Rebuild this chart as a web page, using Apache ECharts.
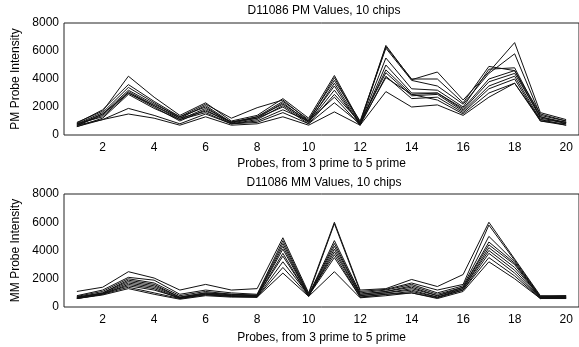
<!DOCTYPE html>
<html>
<head>
<meta charset="utf-8">
<script src="https://cdn.jsdelivr.net/npm/echarts@6/dist/echarts.min.js"></script>
<style>
  html, body { margin: 0; padding: 0; background: #fff; }
  #chart { width: 579px; height: 347px; }
</style>
</head>
<body>
<div id="chart"></div>
<script>
// Probe positions along the transcript (3' to 5')
const probes = [1, 2, 3, 4, 5, 6, 7, 8, 9, 10, 11, 12, 13, 14, 15, 16, 17, 18, 19, 20];
const xTicks = [2, 4, 6, 8, 10, 12, 14, 16, 18, 20];

// Perfect-match intensities, one array per chip
const pmChip1  = [900, 1700, 4200, 2700, 1400, 2300, 1000, 1400, 2600, 1200, 4250, 900, 6400, 3950, 4500, 2500, 4500, 6600, 1600, 1100];
const pmChip2  = [850, 1800, 3600, 2400, 1300, 2200, 1200, 1950, 2500, 1000, 4100, 800, 6300, 4000, 4000, 2300, 4900, 4600, 1500, 1000];
const pmChip3  = [800, 1600, 3400, 2300, 1200, 2100, 900, 1300, 2400, 1100, 3900, 1000, 6200, 3900, 3500, 2200, 4400, 5800, 1400, 1000];
const pmChip4  = [750, 1500, 3200, 2200, 1300, 2000, 850, 1200, 2300, 900, 3700, 800, 5500, 3300, 3200, 2000, 4700, 4800, 1300, 900];
const pmChip5  = [700, 1400, 3100, 2100, 1100, 1900, 900, 1300, 2200, 1000, 3500, 700, 5000, 3000, 3000, 1900, 4000, 4600, 1200, 900];
const pmChip6  = [800, 1300, 3000, 2000, 1000, 1800, 800, 1100, 2100, 900, 3200, 800, 4650, 2900, 3000, 1800, 3800, 4400, 1300, 800];
const pmChip7  = [650, 1500, 3000, 2100, 1200, 1700, 950, 1200, 2000, 800, 2900, 900, 4450, 2800, 2900, 1700, 3500, 4200, 1100, 900];
const pmChip8  = [600, 1200, 2900, 1900, 1100, 1600, 800, 1000, 1800, 1000, 2700, 700, 4200, 2600, 2700, 1600, 3300, 4000, 1000, 800];
const pmChip9  = [700, 1100, 1900, 1400, 800, 1500, 800, 900, 1600, 800, 2300, 800, 4100, 2900, 2500, 1500, 3000, 3700, 1100, 700];
const pmChip10 = [600, 1100, 1500, 1200, 700, 1300, 700, 800, 1300, 700, 1650, 700, 3100, 2000, 2150, 1400, 2700, 3700, 1000, 700];

// Mismatch intensities, one array per chip
const mmChip1  = [1100, 1400, 2500, 2050, 1200, 1600, 1200, 1300, 4900, 1000, 6000, 1200, 1300, 1950, 1450, 2300, 6000, 3400, 800, 800];
const mmChip2  = [800, 1200, 2100, 1900, 900, 1200, 1000, 900, 4700, 900, 5900, 1100, 1250, 1700, 1200, 1600, 5800, 3300, 750, 750];
const mmChip3  = [750, 1100, 2000, 1700, 800, 1100, 900, 850, 4500, 850, 4700, 1000, 1200, 1600, 1000, 1500, 5000, 3200, 700, 800];
const mmChip4  = [700, 1000, 1900, 1600, 700, 1000, 900, 800, 4300, 800, 4500, 900, 1100, 1500, 900, 1400, 4600, 3100, 700, 700];
const mmChip5  = [650, 1000, 1800, 1500, 700, 1000, 850, 800, 4100, 800, 4300, 900, 1100, 1400, 800, 1400, 4400, 3000, 650, 700];
const mmChip6  = [700, 950, 1700, 1400, 650, 950, 800, 750, 3800, 750, 4100, 800, 1000, 1300, 800, 1300, 4200, 2800, 700, 650];
const mmChip7  = [600, 900, 1600, 1300, 600, 900, 800, 750, 3600, 800, 3900, 800, 1000, 1200, 700, 1300, 4000, 2600, 650, 700];
const mmChip8  = [650, 950, 1500, 1200, 650, 900, 750, 700, 3200, 850, 3700, 700, 900, 1100, 700, 1200, 3800, 2400, 600, 650];
const mmChip9  = [600, 900, 1400, 1000, 600, 850, 750, 700, 2800, 800, 3500, 700, 900, 1000, 650, 1200, 3500, 2200, 600, 600];
const mmChip10 = [600, 850, 1300, 900, 550, 800, 700, 700, 2400, 750, 2500, 650, 800, 1000, 600, 1100, 3200, 2000, 600, 600];

const pmChips = [pmChip1, pmChip2, pmChip3, pmChip4, pmChip5, pmChip6, pmChip7, pmChip8, pmChip9, pmChip10];
const mmChips = [mmChip1, mmChip2, mmChip3, mmChip4, mmChip5, mmChip6, mmChip7, mmChip8, mmChip9, mmChip10];

const FONT = 'Liberation Sans, Arial, sans-serif';
const textBase = { fontFamily: FONT, fontSize: 12, color: '#000' };

function xAxisFor(gridIndex, gap) {
  return {
    type: 'value', gridIndex, min: 0.5, max: 20.5,
    name: 'Probes, from 3 prime to 5 prime',
    nameLocation: 'middle', nameGap: gap,
    nameTextStyle: Object.assign({}, textBase),
    axisLine: { show: false }, axisTick: { show: false }, splitLine: { show: false },
    axisLabel: Object.assign({ customValues: xTicks, margin: 7 }, textBase)
  };
}
function yAxisFor(gridIndex, title) {
  return {
    type: 'value', gridIndex, min: 0, max: 8000, interval: 2000,
    name: title, nameLocation: 'middle', nameGap: 38,
    nameTextStyle: Object.assign({}, textBase),
    axisLine: { show: false }, axisTick: { show: false }, splitLine: { show: false },
    axisLabel: Object.assign({ margin: 5, formatter: v => String(v) }, textBase)
  };
}
function linesFor(chips, idx) {
  return chips.map((vals, i) => ({
    type: 'line', xAxisIndex: idx, yAxisIndex: idx,
    name: 'chip ' + (i + 1),
    data: probes.map((p, k) => [p, vals[k]]),
    showSymbol: false, silent: true,
    lineStyle: { color: '#111', width: 1 }
  }));
}

const chart = echarts.init(document.getElementById('chart'), null, { renderer: 'canvas' });
chart.setOption({
  animation: false,
  backgroundColor: '#fff',
  title: [
    { text: 'D11086 PM Values, 10 chips', left: 324, top: 5, padding: 0, textAlign: 'center',
      textStyle: Object.assign({ fontWeight: 'normal' }, textBase) },
    { text: 'D11086 MM Values, 10 chips', left: 324, top: 177, padding: 0, textAlign: 'center',
      textStyle: Object.assign({ fontWeight: 'normal' }, textBase) }
  ],
  grid: [
    { left: 64, top: 23, width: 520, height: 112, show: true, borderColor: '#222', borderWidth: 1 },
    { left: 64, top: 194, width: 520, height: 113, show: true, borderColor: '#222', borderWidth: 1 }
  ],
  xAxis: [xAxisFor(0, 23), xAxisFor(1, 25)],
  yAxis: [yAxisFor(0, 'PM Probe Intensity'), yAxisFor(1, 'MM Probe Intensity')],
  series: linesFor(pmChips, 0).concat(linesFor(mmChips, 1))
});
</script>
</body>
</html>
